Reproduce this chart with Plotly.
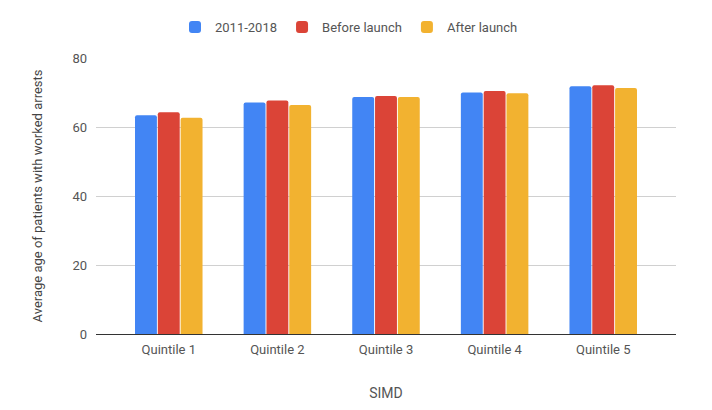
import plotly.graph_objects as go

categories = ["Quintile 1", "Quintile 2", "Quintile 3", "Quintile 4", "Quintile 5"]
series_2011_2018 = [63.4, 67.1, 68.7, 70.0, 71.8]
before_launch = [64.3, 67.7, 69.0, 70.4, 72.1]
after_launch = [62.7, 66.4, 68.7, 69.8, 71.3]

names = ["2011-2018", "Before launch", "After launch"]
colors = ["#4285F4", "#DB4437", "#F2B230"]

fig = go.Figure()
for name, vals, col in zip(names, [series_2011_2018, before_launch, after_launch], colors):
    fig.add_trace(go.Bar(x=categories, y=vals, name=name,
                         marker=dict(color=col, line=dict(width=0), cornerradius=2)))

# page body has an 8px margin, so the figure is sized to fit the 712x410 window
W, H = 704, 402
L, R, T, B = 88, 36, 50, 76
plot_h = H - T - B
plot_w = W - L - R

fig.update_layout(
    width=W, height=H,
    margin=dict(l=L, r=R, t=T, b=B, autoexpand=False),
    paper_bgcolor="white", plot_bgcolor="white",
    font=dict(family="Roboto", size=13, color="#555555"),
    barmode="group", bargap=0.37, bargroupgap=0.04,
    legend=dict(orientation="h", x=(341 - L) / plot_w, xanchor="center",
                y=1 + (T - 19) / plot_h, yanchor="middle",
                font=dict(size=13, color="#555555"),
                itemwidth=30, tracegroupgap=0),
    xaxis=dict(title=dict(text="SIMD", font=dict(size=14, color="#555555"), standoff=32),
               range=[-0.67, 4.67], automargin=False, ticklabelstandoff=6,
               showgrid=False, showline=False, ticks="", tickfont=dict(size=13, color="#555555")),
    yaxis=dict(title=dict(text="Average age of patients with worked arrests", font=dict(size=13, color="#444444"), standoff=26),
               range=[0, 80], dtick=20, gridcolor="#d0d0d0", gridwidth=1, automargin=False,
               zeroline=True, zerolinecolor="#333333", zerolinewidth=1,
               showline=False, ticks="", ticklabelstandoff=8, tickfont=dict(size=13, color="#555555")),
)
fig.write_html("out.html")
